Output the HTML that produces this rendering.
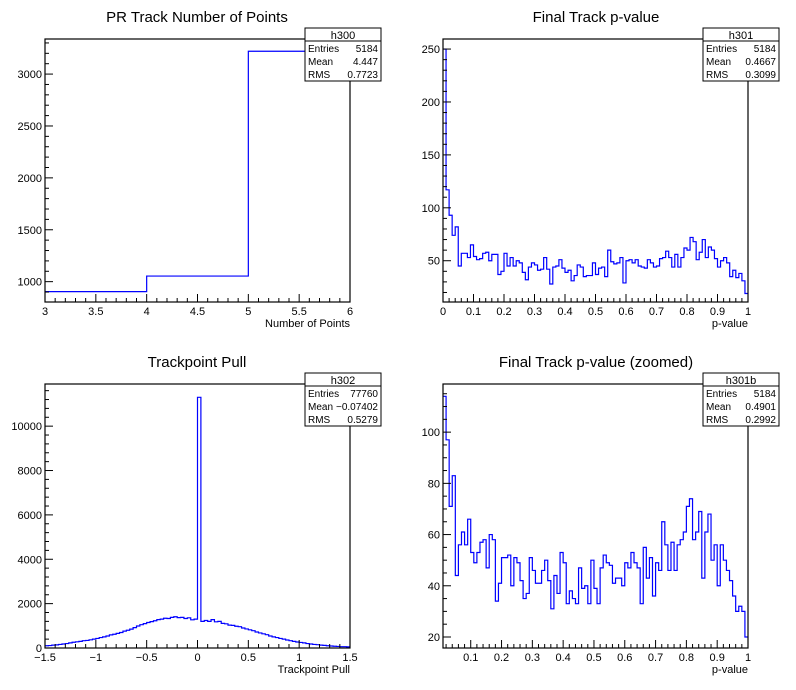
<!DOCTYPE html>
<html><head><meta charset="utf-8"><style>
html,body{margin:0;padding:0;background:#fff}
svg{display:block;font-family:"Liberation Sans",sans-serif}
</style></head><body>
<svg id="c" width="796" height="690" viewBox="0 0 796 690"></svg>
<script>
// Panel 1 data
const p1Edges = [3,4,5,6];
const p1Values = [904,1054,3220];
// Panel 2 data (100 bins 0..1)
const p2Values = [250,117,93,74,82,45,57,57,53,65,54,51,52,57,58,50,56,56,37,40,57,45,53,45,50,48,39,32,44,48,46,41,42,53,42,28,44,45,51,43,39,41,31,36,46,44,35,36,36,48,37,43,44,35,60,49,47,48,53,29,50,51,48,51,45,44,43,51,48,44,45,52,53,59,53,44,56,44,53,62,60,72,68,51,58,70,53,63,60,52,44,50,53,48,35,41,34,38,31,19];
// Panel 3 data (90 bins -1.5..1.5)
const p3Values = [100,110,130,140,160,180,200,230,260,280,300,330,340,370,400,430,470,500,540,590,620,660,700,760,800,850,920,990,1050,1100,1150,1190,1230,1280,1300,1340,1330,1380,1410,1370,1380,1330,1360,1270,1300,11300,1200,1240,1200,1280,1180,1200,1110,1090,1030,1020,980,960,900,860,820,780,720,680,640,600,540,500,470,430,400,360,330,300,270,250,230,200,180,160,150,130,120,100,90,80,70,60,60,50];
// Panel 4 data (99 bins 0.01..1)
const p4Values = [114,97,71,83,44,56,61,56,66,53,49,53,57,58,47,60,58,34,41,51,51,52,40,51,49,42,35,37,51,46,41,41,46,50,42,31,44,37,53,49,33,38,35,33,47,39,40,33,50,39,33,47,52,49,48,41,43,43,40,49,47,53,49,47,33,55,43,51,36,49,46,65,56,46,57,46,56,58,61,71,74,58,61,69,43,61,68,50,56,40,56,50,46,42,36,30,32,30,20];
// Titles/stats
const titles = ["PR Track Number of Points","Final Track p-value","Trackpoint Pull","Final Track p-value (zoomed)"];
const statNames = ["h300","h301","h302","h301b"];
const statEntries = ["5184","5184","77760","5184"];
const statMeans = ["4.447","0.4667","\u22120.07402","0.4901"];
const statRms = ["0.7723","0.3099","0.5279","0.2992"];
const xTitles = ["Number of Points","p-value","Trackpoint Pull","p-value"];

const NS="http://www.w3.org/2000/svg";
const svg=document.getElementById('c');
function mk(tag,attrs,parent){const e=document.createElementNS(NS,tag);for(const k in attrs)e.setAttribute(k,attrs[k]);(parent||svg).appendChild(e);return e;}
function fmt(v,step){let d=0;if(step<1)d=Math.max(0,Math.ceil(-Math.log10(step)-1e-9));let s=v.toFixed(d);if(step<1)s=String(parseFloat(s));if(v<0)s="\u2212"+s.replace('-','');return s;}

const panels=[
 {x0:45,x1:350,y0:39,y1:302,xmin:3,xmax:6,ymin:804,ymax:3338,xMaj:0.5,xMin:0.1,yMaj:500,yMin:100},
 {x0:443,x1:748,y0:39,y1:302,xmin:0,xmax:1,ymin:11,ymax:259.5,xMaj:0.1,xMin:0.02,yMaj:50,yMin:10},
 {x0:45,x1:350,y0:384,y1:648,xmin:-1.5,xmax:1.5,ymin:0,ymax:11900,xMaj:0.5,xMin:0.1,yMaj:2000,yMin:400},
 {x0:443,x1:748,y0:384,y1:648,xmin:0.01,xmax:1,ymin:15.7,ymax:118.8,xMaj:0.1,xMin:0.02,yMaj:20,yMin:5}
];
const statBox=[[305,28],[703,28],[305,373],[703,373]];

panels.forEach((p,i)=>{
 const g=mk('g',{});
 
 
 const sx=v=>p.x0+(v-p.xmin)/(p.xmax-p.xmin)*(p.x1-p.x0);
 const sy=v=>p.y1-(Math.max(p.ymin,Math.min(p.ymax,v))-p.ymin)/(p.ymax-p.ymin)*(p.y1-p.y0);
 const t=mk('text',{x:i%2==0?197:596,y:i<2?22:367,'text-anchor':'middle','font-size':15,fill:'#000'},g);
 t.textContent=titles[i];
 
 
 let edges,vals;
 if(i==0){edges=p1Edges;vals=p1Values;}
 else{
  vals=[p2Values,p3Values,p4Values][i-1];
  const n=vals.length;edges=[];for(let k=0;k<=n;k++)edges.push(p.xmin+(p.xmax-p.xmin)*k/n);
 }
 let d='M'+sx(edges[0])+','+sy(vals[0]);
 for(let k=0;k<vals.length;k++){d+=' L'+sx(edges[k+1])+','+sy(vals[k]);if(k+1<vals.length)d+=' L'+sx(edges[k+1])+','+sy(vals[k+1]);}
 const h=mk('path',{d:d,fill:'none',stroke:'#0000ff','stroke-width':1.2},g);
 
 
 const f=mk('rect',{x:p.x0,y:p.y0,width:p.x1-p.x0,height:p.y1-p.y0,fill:'none',stroke:'#000','stroke-width':1.2},g);
 
 
 const eps=1e-9;
 for(let v=Math.ceil((p.xmin-eps)/p.xMin)*p.xMin;v<=p.xmax+eps;v+=p.xMin){
  const X=sx(v);if(X<p.x0-0.5)continue;
  const maj=Math.abs(v/p.xMaj-Math.round(v/p.xMaj))<1e-6;
  mk('line',{x1:X,x2:X,y1:p.y1,y2:p.y1-(maj?8:4),stroke:'#000','stroke-width':1},g);
  if(maj){const tl=mk('text',{x:X,y:p.y1+13,'text-anchor':'middle','font-size':11},g);tl.textContent=fmt(Math.round(v*1000)/1000,p.xMaj);
   
   }
 }
 for(let v=Math.ceil((p.ymin-eps)/p.yMin)*p.yMin;v<=p.ymax+eps;v+=p.yMin){
  const Y=sy(v);
  const maj=Math.abs(v/p.yMaj-Math.round(v/p.yMaj))<1e-6;
  mk('line',{x1:p.x0,x2:p.x0+(maj?8:4),y1:Y,y2:Y,stroke:'#000','stroke-width':1},g);
  if(maj){const tl=mk('text',{x:p.x0-3,y:Y+4,'text-anchor':'end','font-size':11},g);tl.textContent=String(Math.round(v));
   
   }
 }
 const xt=mk('text',{x:p.x1,y:p.y1+25,'text-anchor':'end','font-size':11},g);
 xt.textContent=xTitles[i];
 
 
 const [bx,by]=statBox[i];
 const sb=mk('g',{},g);
 
 
 mk('rect',{x:bx,y:by,width:76,height:53,fill:'#fff',stroke:'#000','stroke-width':1},sb);
 mk('line',{x1:bx,x2:bx+76,y1:by+13,y2:by+13,stroke:'#000','stroke-width':1},sb);
 const hn=mk('text',{x:bx+38,y:by+11,'text-anchor':'middle','font-size':11},sb);hn.textContent=statNames[i];
 const rows=[["Entries",statEntries[i]],["Mean",statMeans[i]],["RMS",statRms[i]]];
 rows.forEach((r,k)=>{
  const a=mk('text',{x:bx+3,y:by+24+k*13,'font-size':10},sb);a.textContent=r[0];
  const b=mk('text',{x:bx+73,y:by+24+k*13,'text-anchor':'end','font-size':10},sb);b.textContent=r[1];
 });
});
</script>
</body></html>
